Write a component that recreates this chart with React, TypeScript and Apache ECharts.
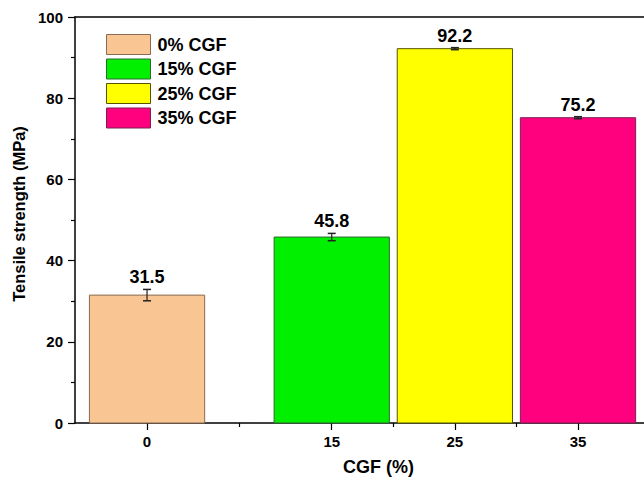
import React, { useEffect, useRef } from "react";
import * as echarts from "echarts";

const seriesNames = ["0% CGF", "15% CGF", "25% CGF", "35% CGF"];
const cgfLevels = [0, 15, 25, 35];
const strengthValues = [31.5, 45.8, 92.2, 75.2];
const errorValues = [1.4, 0.9, 0.25, 0.25];
const barColors = ["#F9C593", "#00F000", "#FFFF00", "#FF007F"];
const barBorders = ["#8a6a50", "#2c6a2c", "#555500", "#7a2050"];
const xTickLabels = [0, 15, 25, 35];
const xMinorTicks = [7.5, 20, 30];

const BAR_HALF = 4.68;
const FONT = "Arial, 'Liberation Sans', sans-serif";

export default function App() {
  const ref = useRef<HTMLDivElement>(null);
  useEffect(() => {
    if (!ref.current) return;
    const chart = echarts.init(ref.current, null, { renderer: "svg" });
    const series = seriesNames.map((name, i) => ({
      name,
      type: "custom",
      xAxisIndex: 0,
      yAxisIndex: 0,
      itemStyle: { color: barColors[i], borderColor: barBorders[i] },
      data: [[cgfLevels[i], strengthValues[i], errorValues[i]]],
      renderItem: (params: any, api: any) => {
        const x = api.value(0);
        const y = api.value(1);
        const e = api.value(2);
        const p0 = api.coord([x - BAR_HALF, 0]);
        const p1 = api.coord([x + BAR_HALF, y]);
        const c = api.coord([x, y]);
        const eTop = api.coord([x, y + e]);
        const eBot = api.coord([x, y - e]);
        const cap = 4;
        return {
          type: "group",
          children: [
            {
              type: "rect",
              shape: { x: p0[0], y: p1[1], width: p1[0] - p0[0], height: p0[1] - p1[1] },
              style: { fill: barColors[i], stroke: barBorders[i], lineWidth: 1 },
            },
            {
              type: "line",
              shape: { x1: c[0], y1: eTop[1], x2: c[0], y2: eBot[1] },
              style: { stroke: "#222", lineWidth: 1.2 },
            },
            {
              type: "line",
              shape: { x1: c[0] - cap, y1: eTop[1], x2: c[0] + cap, y2: eTop[1] },
              style: { stroke: "#222", lineWidth: 1.5 },
            },
            {
              type: "line",
              shape: { x1: c[0] - cap, y1: eBot[1], x2: c[0] + cap, y2: eBot[1] },
              style: { stroke: "#222", lineWidth: 1.5 },
            },
            {
              type: "text",
              x: c[0],
              y: eTop[1] - 3,
              style: {
                text: String(y),
                fill: "#000",
                font: `bold 18px ${FONT}`,
                align: "center",
                verticalAlign: "bottom",
                textAlign: "center",
                textVerticalAlign: "bottom",
              },
            },
          ],
        };
      },
    }));

    chart.setOption({
      animation: false,
      backgroundColor: "#fff",
      grid: { left: 75, top: 17, right: 0, bottom: 56, containLabel: false, outerBoundsMode: "none" },
      legend: {
        orient: "vertical",
        left: 101,
        top: 29,
        itemWidth: 44,
        itemHeight: 20,
        itemGap: 3.5,
        textStyle: { fontFamily: FONT, fontWeight: "bold", fontSize: 18, color: "#000", padding: [0, 0, 0, 2] },
        data: seriesNames.map((n, i) => ({
          name: n,
          icon: "rect",
          itemStyle: { color: barColors[i], borderColor: barBorders[i], borderWidth: 1 },
        })),
      },
      xAxis: [
        {
          type: "value",
          min: -5.85,
          max: 40.36,
          position: "bottom",
          name: "CGF (%)",
          nameLocation: "middle",
          nameGap: 35,
          nameTextStyle: { fontFamily: FONT, fontWeight: "bold", fontSize: 18, color: "#000", padding: [0, 0, 0, 38] },
          axisLine: { show: true, onZero: false, lineStyle: { color: "#000", width: 1.5 } },
          axisTick: { show: true, inside: false, length: 7, customValues: xTickLabels, lineStyle: { color: "#000", width: 1.2 } },
          axisLabel: { show: true, customValues: xTickLabels, margin: 11, fontFamily: FONT, fontWeight: "bold", fontSize: 15, color: "#000" },
          splitLine: { show: false },
        },
        {
          type: "value",
          min: -5.85,
          max: 40.36,
          position: "bottom",
          axisLine: { show: false },
          axisTick: { show: true, inside: false, length: 4, customValues: xMinorTicks, lineStyle: { color: "#000", width: 1.2 } },
          axisLabel: { show: false },
          splitLine: { show: false },
        },
        {
          type: "value",
          min: -5.85,
          max: 40.36,
          position: "top",
          axisLine: { show: true, onZero: false, lineStyle: { color: "#000", width: 1.5 } },
          axisTick: { show: false },
          axisLabel: { show: false },
          splitLine: { show: false },
        },
      ],
      yAxis: {
        type: "value",
        min: 0,
        max: 100,
        interval: 20,
        name: "Tensile strength (MPa)",
        nameLocation: "middle",
        nameGap: 40,
        nameTextStyle: { fontFamily: FONT, fontWeight: "bold", fontSize: 16.5, color: "#000", padding: [0, 0, 0, 12] },
        axisLine: { show: true, onZero: false, lineStyle: { color: "#000", width: 1.5 } },
        axisTick: { show: true, inside: false, length: 7, lineStyle: { color: "#000", width: 1.2 } },
        minorTick: { show: true, splitNumber: 2, length: 4, lineStyle: { color: "#000", width: 1.2 } },
        axisLabel: { margin: 12, fontFamily: FONT, fontWeight: "bold", fontSize: 15, color: "#000" },
        splitLine: { show: false },
      },
      series,
    });
    return () => chart.dispose();
  }, []);
  return <div ref={ref} style={{ position: "absolute", left: 0, top: 0, width: 644, height: 479 }} />;
}
